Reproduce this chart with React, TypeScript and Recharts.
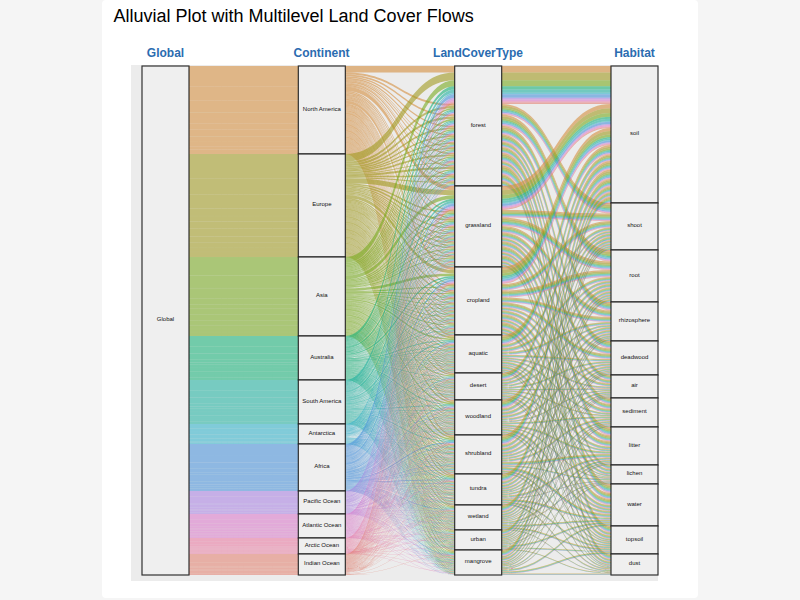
import React from 'react';
import { Sankey } from 'recharts';

const FONT = '"Liberation Sans", Arial, sans-serif';

const axisTitles = ['Global', 'Continent', 'LandCoverType', 'Habitat'];
const axisTitleCenters = [165.5, 321.5, 478, 634.5];

const continents = ['North America', 'Europe', 'Asia', 'Australia', 'South America', 'Antarctica', 'Africa', 'Pacific Ocean', 'Atlantic Ocean', 'Arctic Ocean', 'Indian Ocean'];
const continentTotals = [88, 103, 79, 44, 44, 20, 47, 23, 24, 16, 21];
const continentColors = ['#D48B38', '#9F971A', '#76A81A', '#12B076', '#1AB09F', '#2BB0C9', '#448FDA', '#A87EE2', '#DA76C9', '#EA769F', '#E27E6D'];

const landCovers = ['forest', 'grassland', 'cropland', 'aquatic', 'desert', 'woodland', 'shrubland', 'tundra', 'wetland', 'urban', 'mangrove'];
const habitats = ['soil', 'shoot', 'root', 'rhizosphere', 'deadwood', 'air', 'sediment', 'litter', 'lichen', 'water', 'topsoil', 'dust'];

// band widths from land cover (row) to habitat (column)
const forestFlows = [38, 10.5, 11.5, 8.5, 7.5, 5, 6, 8.5, 4, 9, 6.5, 5];
const grasslandFlows = [24, 7.5, 8.5, 6.5, 5.5, 3.5, 5, 6, 3, 6, 3, 2.5];
const croplandFlows = [17, 6.5, 7, 5, 5, 3, 4, 5, 3, 6, 3.5, 3];
const aquaticFlows = [9.5, 3.5, 4, 3, 2.5, 2, 2, 3, 1.5, 3.5, 2, 1.5];
const desertFlows = [6.5, 2.5, 3, 2, 2, 1.5, 1.5, 2, 1, 2.5, 1.5, 1];
const woodlandFlows = [8.5, 3.5, 3.5, 3, 2.5, 1.5, 2, 2.5, 1.5, 3, 2, 1.5];
const shrublandFlows = [9.5, 3.5, 4, 3, 2.5, 2, 2.5, 3.5, 1.5, 3.5, 2, 1.5];
const tundraFlows = [7.5, 3, 3, 2.5, 2, 1.5, 2, 2.5, 1, 2.5, 2, 1.5];
const wetlandFlows = [6, 2.5, 2.5, 2, 1.5, 1, 1.5, 2, 1, 2, 2, 1];
const urbanFlows = [4.5, 2, 2, 1.5, 1.5, 1, 1, 1.5, 0.5, 2, 1.5, 1];
const mangroveFlows = [6, 2, 3, 2, 1.5, 1, 1.5, 1.5, 1, 2, 2, 1.5];

const landFlows = [forestFlows, grasslandFlows, croplandFlows, aquaticFlows, desertFlows, woodlandFlows, shrublandFlows, tundraFlows, wetlandFlows, urbanFlows, mangroveFlows];

const sum = (xs: number[]) => xs.reduce((a, b) => a + b, 0);
const landTotals = landFlows.map(sum);
const grandTotal = sum(continentTotals);

// Sankey table. A land cover stratum is a stack of land x habitat cells so the
// strands on both of its sides keep the same order. Each band is shared out
// between continents by their totals, single strands can't be read off the picture.
const CONT_START = 1;
const CELL_START = CONT_START + continents.length;
const HAB_START = CELL_START + landCovers.length * habitats.length;
const cellIndex = (l: number, h: number) => CELL_START + l * habitats.length + h;

const nodes: any[] = [{ name: 'Global', kind: 'stratum' }];
continents.forEach((name) => nodes.push({ name, kind: 'stratum' }));
landCovers.forEach((name, l) =>
  habitats.forEach((_, h) => nodes.push({ name, kind: 'cell', land: l, first: h === 0 }))
);
habitats.forEach((name) => nodes.push({ name, kind: 'stratum' }));

const links: any[] = [];
continents.forEach((_, c) => {
  landCovers.forEach((_, l) => {
    links.push({ source: 0, target: CONT_START + c, value: (continentTotals[c] * landTotals[l]) / grandTotal, color: c, edge: false });
  });
});
continents.forEach((_, c) => {
  landCovers.forEach((_, l) => {
    habitats.forEach((_, h) => {
      links.push({ source: CONT_START + c, target: cellIndex(l, h), value: (landFlows[l][h] * continentTotals[c]) / grandTotal, color: c, edge: true });
    });
  });
});
landCovers.forEach((_, l) => {
  habitats.forEach((_, h) => {
    continents.forEach((_, c) => {
      links.push({ source: cellIndex(l, h), target: HAB_START + h, value: (landFlows[l][h] * continentTotals[c]) / grandTotal, color: c, edge: true });
    });
  });
});

const Ribbon = (props: any) => {
  const { sourceX, targetX, sourceY, targetY, sourceControlX, targetControlX, linkWidth, index } = props;
  const half = linkWidth / 2;
  const d =
    `M${sourceX},${sourceY - half}` +
    `C${sourceControlX},${sourceY - half} ${targetControlX},${targetY - half} ${targetX},${targetY - half}` +
    `L${targetX},${targetY + half}` +
    `C${targetControlX},${targetY + half} ${sourceControlX},${sourceY + half} ${sourceX},${sourceY + half}Z`;
  const link = links[index];
  const color = continentColors[link.color];
  return (
    <path
      d={d}
      fill={color}
      fillOpacity={link.edge ? 0.58 : 0.56}
      stroke={link.edge ? 'none' : '#ffffff'}
      strokeOpacity={0.12}
      strokeWidth={0.25}
    />
  );
};

const Stratum = (props: any) => {
  const { x, y, width, height, payload } = props;
  if (payload.kind === 'cell' && !payload.first) return <g />;
  const h = payload.kind === 'cell' ? (height * landTotals[payload.land]) / payload.value : height;
  return (
    <g>
      <rect x={x} y={y} width={width} height={h} fill="#EFEFEF" stroke="#111" strokeWidth={1.2} strokeOpacity={0.85} />
      <text
        x={x + width / 2}
        y={y + h / 2 + 0.8}
        textAnchor="middle"
        fontSize={6}
        fontFamily={FONT}
        fill="#111"
      >
        {payload.name}
      </text>
    </g>
  );
};

export default function App() {
  return (
    <div style={{ position: 'absolute', left: 0, top: 0, width: 800, height: 600, background: '#F5F5F5', overflow: 'hidden', fontFamily: FONT }}>
      <div style={{ position: 'absolute', left: 102, top: 0, width: 596, height: 598, background: '#fff', borderRadius: 4 }} />
      <div style={{ position: 'absolute', left: 113.5, top: 6, fontSize: 18, color: '#000', whiteSpace: 'nowrap' }}>
        Alluvial Plot with Multilevel Land Cover Flows
      </div>
      {axisTitles.map((t, i) => (
        <div
          key={t}
          style={{ position: 'absolute', left: axisTitleCenters[i] - 60, width: 120, top: 46, textAlign: 'center', fontSize: 12, fontWeight: 700, color: '#2B6CB0' }}
        >
          {t}
        </div>
      ))}
      <div style={{ position: 'absolute', left: 131, top: 65, width: 527, height: 516, background: '#ECECEC' }} />
      <div style={{ position: 'absolute', left: 140, top: 64 }}>
        <Sankey
          width={520}
          height={513}
          data={{ nodes, links }}
          nodeWidth={47}
          nodePadding={0}
          iterations={0}
          sort={false}
          margin={{ top: 2, right: 2, bottom: 2, left: 2 }}
          node={Stratum}
          link={Ribbon}
        />
      </div>
    </div>
  );
}
